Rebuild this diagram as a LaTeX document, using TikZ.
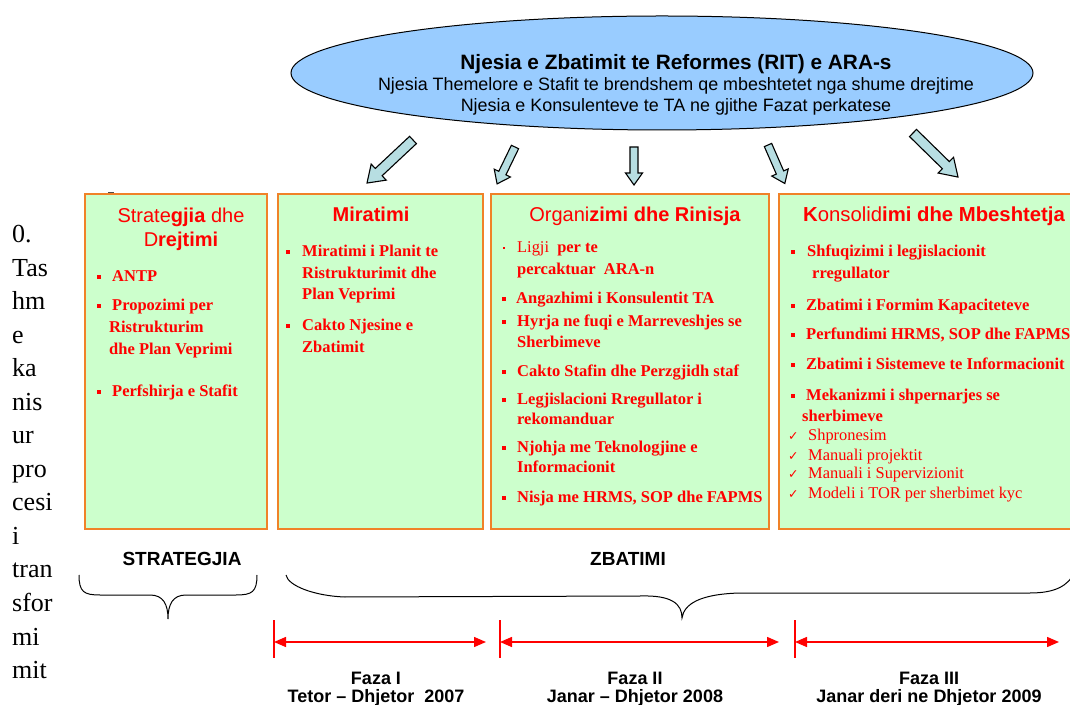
\documentclass[tikz,border=0pt]{standalone}
\usepackage{fontspec}
\setmainfont{Liberation Serif}
\setsansfont{Liberation Sans}
\newfontfamily\djv{DejaVu Sans}
\usetikzlibrary{shapes.geometric,arrows.meta}
\definecolor{ellfill}{HTML}{99CCFF}
\definecolor{arrfill}{HTML}{B7DEE2}
\definecolor{boxfill}{HTML}{CCFFCC}
\definecolor{boxline}{HTML}{F08228}
\newcommand\blkarrow[7]{%
  \begin{scope}[shift={(#1,#2)},rotate=#3]
    \draw[blk] (0,{-#5/2}) -- ({#4-#7},{-#5/2}) -- ({#4-#7},{-#6/2}) -- (#4,0)
      -- ({#4-#7},{#6/2}) -- ({#4-#7},{#5/2}) -- (0,{#5/2}) -- cycle;
  \end{scope}}
\newcommand\tsz[2]{\fontsize{#1}{#2}\selectfont}
\begin{document}
\begin{tikzpicture}[x=1pt,y=1pt,
  blk/.style={draw=black,line width=1.1pt,fill=arrfill,line join=miter},
  box/.style={draw=boxline,fill=boxfill,line width=1.3pt,anchor=north west,inner sep=0,outer sep=0},
  ttl/.style={anchor=base,text=red,inner sep=0,font=\sffamily\tsz{20}{24}},
  item/.style={anchor=base west,text=red,inner sep=0,font=\bfseries\tsz{16.5}{20}},
  citem/.style={anchor=base west,text=red,inner sep=0,font=\tsz{16.4}{20}},
  bul/.style={fill=red,minimum size=4pt,inner sep=0},
  chk/.style={anchor=base west,text=red,inner sep=0,font=\djv\tsz{12.5}{14}},
  lbl/.style={anchor=base,inner sep=0,font=\sffamily\bfseries\tsz{19}{22}},
  faz/.style={anchor=base,inner sep=0,font=\sffamily\bfseries\tsz{18}{21}},
  dim/.style={draw=red,line width=1.4pt},
  brace/.style={draw=black,line width=1pt}]
\useasboundingbox (0,0) rectangle (1070,704);
\clip (0,0) rectangle (1070,704);

% left running text
\foreach \w [count=\i from 0] in {0.,Tas,hm,e,ka,nis,ur,pro,cesi,i,tran,sfor,mi,mit}
  \node[anchor=base west,inner sep=0,font=\tsz{26}{30}] (L\i) at (12,{461-33.5*\i}) {\w};

% ellipse
\node[ellipse,draw=black,fill=ellfill,line width=1pt,minimum width=742,minimum height=114] (rit) at (662,631) {};
\node[anchor=base,inner sep=0,font=\sffamily\bfseries\tsz{20.8}{24}] (rit1) at (676,634) {Njesia e Zbatimit te Reformes (RIT) e ARA-s};
\node[anchor=base,inner sep=0,font=\sffamily\tsz{17.9}{21}] (rit2) at (676,613) {Njesia Themelore e Stafit te brendshem qe mbeshtetet nga shume drejtime};
\node[anchor=base,inner sep=0,font=\sffamily\tsz{17.9}{21}] (rit3) at (676,592) {Njesia e Konsulenteve te TA ne gjithe Fazat perkatese};

% block arrows
\blkarrow{413}{564}{223.1}{63}{10}{22}{16}
\blkarrow{515}{557}{244.1}{41}{8}{18}{12}
\blkarrow{634}{557}{270}{38}{8}{17}{12}
\blkarrow{768}{559}{293.6}{42}{8}{18}{12}
\blkarrow{913}{571}{315.6}{63}{10}{22}{17}

% small mark above the first box
\draw[black!70,line width=1.2pt] (108,511) -- (114,511);

% boxes
\node[box,minimum width=182,minimum height=335] (b1) at (85,510) {};
\node[box,minimum width=205,minimum height=335] (b2) at (278,510) {};
\node[box,minimum width=278,minimum height=335] (b3) at (491,510) {};
\node[box,minimum width=299,minimum height=335] (b4) at (779,510) {};

% box 1
\node[ttl] (t1a) at (181,481) {Strate\textbf{gjia} dhe};
\node[ttl] (t1b) at (181,457) {D\textbf{rejtimi}};
\node[bul] (u11) at (99,427) {};
\node[item] (i11) at (112,422) {ANTP};
\node[bul] (u12) at (99,398) {};
\node[item] (i12) at (112,393) {Propozimi per};
\node[item] (i12b) at (109,371) {Ristrukturim};
\node[item] (i12c) at (109,349) {dhe Plan Veprimi};
\node[bul] (u13) at (99,312) {};
\node[item] (i13) at (112,307) {Perfshirja e Stafit};

% box 2
\node[ttl,font=\sffamily\bfseries\tsz{20}{24}] (t2) at (371,482) {Miratimi};
\node[bul] (u21) at (288,452) {};
\node[item] (i21) at (302,447) {Miratimi i Planit te};
\node[item] (i21b) at (302,425) {Ristrukturimit dhe};
\node[item] (i21c) at (302,404) {Plan Veprimi};
\node[bul] (u22) at (288,378) {};
\node[item] (i22) at (302,373) {Cakto Njesine e};
\node[item] (i22b) at (302,351) {Zbatimit};

% box 3
\node[ttl] (t3) at (635,482) {Organi\textbf{zimi dhe Rinisja}};
\node[bul,minimum size=2.2pt] (u31) at (504,456) {};
\node[citem] (i31) at (517,451) {Ligji \ \textbf{per te}};
\node[item] (i31b) at (517,429) {percaktuar \ ARA-n};
\node[bul] (u32) at (504,405) {};
\node[item] (i32) at (516,400) {Angazhimi i Konsulentit TA};
\node[bul] (u33) at (504,382) {};
\node[item] (i33) at (517,377) {Hyrja ne fuqi e Marreveshjes se};
\node[item] (i33b) at (517,356) {Sherbimeve};
\node[bul] (u34) at (504,332) {};
\node[item] (i34) at (517,327) {Cakto Stafin dhe Perzgjidh staf};
\node[bul] (u35) at (504,304) {};
\node[item] (i35) at (517,299) {Legjislacioni Rregullator i};
\node[item] (i35b) at (517,279) {rekomanduar};
\node[bul] (u36) at (504,256) {};
\node[item] (i36) at (517,251) {Njohja me Teknologjine e};
\node[item] (i36b) at (517,231) {Informacionit};
\node[bul] (u37) at (504,206) {};
\node[item] (i37) at (517,201) {Nisja me HRMS, SOP dhe FAPMS};

% box 4
\node[ttl,anchor=base west,font=\sffamily\tsz{20.3}{24}] (t4) at (803,482) {\textbf{K}onsolid\textbf{imi dhe Mbeshtetja}};
\node[bul] (u41) at (793,452) {};
\node[item] (i41) at (807,447) {Shfuqizimi i legjislacionit};
\node[item] (i41b) at (812,425) {rregullator};
\node[bul] (u42) at (793,398) {};
\node[item] (i42) at (806,393) {Zbatimi i Formim Kapaciteteve};
\node[bul] (u43) at (793,369) {};
\node[item] (i43) at (806,364) {Perfundimi HRMS, SOP dhe FAPMS};
\node[bul] (u44) at (793,339) {};
\node[item] (i44) at (806,334) {Zbatimi i Sistemeve te Informacionit};
\node[bul] (u45) at (793,308) {};
\node[item] (i45) at (806,303) {Mekanizmi i shpernarjes se};
\node[item] (i45b) at (802,282) {sherbimeve};
\node[chk] (c1) at (788,263) {✓};
\node[citem] (k1) at (808,263) {Shpronesim};
\node[chk] (c2) at (788,243) {✓};
\node[citem] (k2) at (808,243) {Manuali projektit};
\node[chk] (c3) at (788,225) {✓};
\node[citem] (k3) at (808,225) {Manuali i Supervizionit};
\node[chk] (c4) at (788,205) {✓};
\node[citem] (k4) at (808,205) {Modeli i TOR per sherbimet kyc};

% bottom labels
\node[lbl] (strat) at (182,138) {STRATEGJIA};
\node[lbl] (zbat) at (628,138) {ZBATIMI};

% braces
\draw[brace] (79,129) .. controls (79,112) and (84,109) .. (100,109) -- (150,109)
  .. controls (163,109) and (168,100) .. (168,85)
  .. controls (168,100) and (173,109) .. (186,109) -- (236,109)
  .. controls (252,109) and (257,112) .. (257,129);
\draw[brace] (286,129) .. controls (288,118) and (315,108) .. (345,107) -- (640,108)
  .. controls (672,109) and (682,100) .. (682,86)
  .. controls (684,100) and (700,110) .. (740,111) -- (1030,111)
  .. controls (1055,111) and (1068,118) .. (1075,132);

% phase dimension lines
\coordinate (p1a) at (274,62); \coordinate (p1b) at (486,62);
\coordinate (p2a) at (500,62); \coordinate (p2b) at (779,62);
\coordinate (p3a) at (795,62); \coordinate (p3b) at (1059,62);
\foreach \c in {p1a,p2a,p3a}
  \draw[dim] ([yshift=22pt]\c) -- ([yshift=-16pt]\c);
\foreach \a/\b in {p1a/p1b,p2a/p2b,p3a/p3b}
  \draw[dim,{Triangle[length=12pt,width=10pt]}-{Triangle[length=12pt,width=10pt]}] (\a) -- (\b);

\node[faz] (f1) at (376,20) {Faza I};
\node[faz] (f1d) at (376,2) {Tetor -- Dhjetor \ 2007};
\node[faz] (f2) at (635,20) {Faza II};
\node[faz] (f2d) at (635,2) {Janar -- Dhjetor 2008};
\node[faz] (f3) at (929,20) {Faza III};
\node[faz] (f3d) at (929,2) {Janar deri ne Dhjetor 2009};
\end{tikzpicture}
\end{document}
